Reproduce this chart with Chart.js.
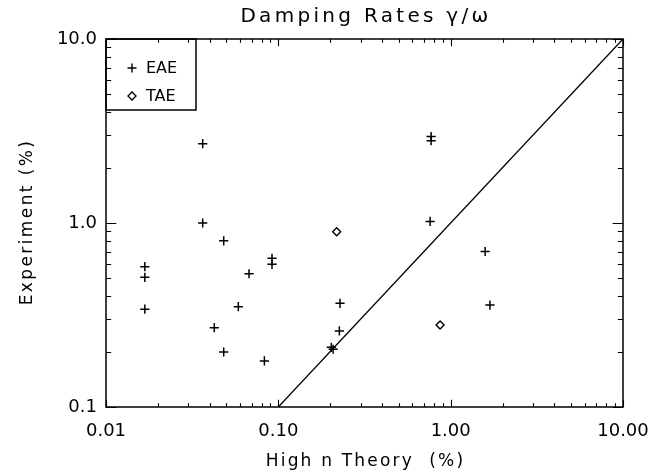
<!DOCTYPE html>
<html>
<head>
<meta charset="utf-8">
<script src="https://cdn.jsdelivr.net/npm/chart.js@4.4.0/dist/chart.umd.min.js"></script>
<style>
  html, body { margin: 0; padding: 0; background: #fff; }
  canvas { display: block; }
</style>
</head>
<body>
<canvas id="mycanvas" width="670" height="476"></canvas>
<script>
var titleText = "Damping Rates \u03b3/\u03c9";
var xTitle = "High n Theory  (%)";
var yTitle = "Experiment (%)";

// EAE points (theory %, experiment %)
var eaeTheory = [0.0364, 0.0364, 0.0482, 0.0168, 0.0168, 0.0168, 0.0676, 0.0919, 0.0919, 0.0586, 0.0425,
                 0.0482, 0.083, 0.228, 0.226, 0.203, 0.208, 0.77, 0.77, 0.76, 1.585, 1.69];
var eaeExperiment = [2.70, 1.00, 0.80, 0.579, 0.507, 0.34, 0.53, 0.643, 0.596, 0.351, 0.27,
                     0.199, 0.178, 0.366, 0.259, 0.211, 0.206, 2.95, 2.80, 1.02, 0.70, 0.358];
// TAE points
var taeTheory = [0.218, 0.868];
var taeExperiment = [0.897, 0.279];
// experiment = theory line
var lineTheory = [0.1, 10];
var lineExperiment = [0.1, 10];

var xTickValues = [0.01, 0.1, 1, 10];
var xTickLabels = ["0.01", "0.10", "1.00", "10.00"];
var yTickValues = [0.1, 1, 10];
var yTickLabels = ["0.1", "1.0", "10.0"];
var minorSteps = [2, 3, 4, 5, 6, 7, 8, 9];

function pairs(xs, ys) {
    var out = [];
    for (var i in xs) {
        out.push({x: xs[i], y: ys[i]});
    }
    return out;
}

function allTicks(majors) {
    var out = [];
    majors.forEach(function(v, i) {
        out.push({v: v, major: true});
        if (i < majors.length - 1) {
            minorSteps.forEach(function(m) { out.push({v: v * m, major: false}); });
        }
    });
    return out;
}

function drawCross(ctx, x, y, r) {
    ctx.beginPath();
    ctx.moveTo(x - r, y); ctx.lineTo(x + r, y);
    ctx.moveTo(x, y - r); ctx.lineTo(x, y + r);
    ctx.stroke();
}

function drawDiamond(ctx, x, y, r) {
    ctx.beginPath();
    ctx.moveTo(x, y - r); ctx.lineTo(x + r, y); ctx.lineTo(x, y + r); ctx.lineTo(x - r, y);
    ctx.closePath();
    ctx.stroke();
}

var framePlugin = {
    id: 'frame',
    afterDraw: function(chart) {
        var ctx = chart.ctx, a = chart.chartArea;
        var xs = chart.scales.x, ys = chart.scales.y;
        ctx.save();
        ctx.strokeStyle = '#000';
        ctx.fillStyle = '#000';

        // box round the plot
        ctx.lineWidth = 1.5;
        ctx.strokeRect(a.left, a.top, a.right - a.left, a.bottom - a.top);

        // inward ticks on all four sides
        ctx.lineWidth = 1.1;
        var xLen = (a.bottom - a.top) * 0.02, yLen = (a.right - a.left) * 0.02;
        allTicks(xTickValues).forEach(function(t) {
            var px = Math.round(xs.getPixelForValue(t.v)) + 0.5;
            var len = t.major ? xLen : xLen / 2;
            ctx.beginPath();
            ctx.moveTo(px, a.bottom); ctx.lineTo(px, a.bottom - len);
            ctx.moveTo(px, a.top); ctx.lineTo(px, a.top + len);
            ctx.stroke();
        });
        allTicks(yTickValues).forEach(function(t) {
            var py = Math.round(ys.getPixelForValue(t.v)) + 0.5;
            var len = t.major ? yLen : yLen / 2;
            ctx.beginPath();
            ctx.moveTo(a.left, py); ctx.lineTo(a.left + len, py);
            ctx.moveTo(a.right, py); ctx.lineTo(a.right - len, py);
            ctx.stroke();
        });

        // legend box in the upper left corner
        ctx.lineWidth = 1.5;
        ctx.strokeRect(a.left, a.top, 90, 71);
        ctx.lineWidth = 1.4;
        ctx.font = '16px "DejaVu Sans"';
        ctx.textAlign = 'left';
        ctx.textBaseline = 'middle';
        var row = 0;
        chart.data.datasets.forEach(function(ds) {
            if (!ds.label) return;
            var ly = a.top + 29 + row * 28;
            if (ds.pointStyle === 'cross') drawCross(ctx, a.left + 26, ly, 4.5);
            else drawDiamond(ctx, a.left + 26, ly, 4);
            ctx.fillText(ds.label, a.left + 40, ly + 1);
            row++;
        });

        // titles
        var cx = (a.left + a.right) / 2;
        ctx.textBaseline = 'alphabetic';
        ctx.textAlign = 'center';
        ctx.font = '20px "DejaVu Sans"';
        ctx.letterSpacing = '3.3px';
        ctx.fillText(titleText, cx + 1.5, 22);

        ctx.font = '17px "DejaVu Sans"';
        ctx.letterSpacing = '2.2px';
        ctx.fillText(xTitle, cx + 1, 466);

        ctx.translate(32, (a.top + a.bottom) / 2);
        ctx.rotate(-Math.PI / 2);
        ctx.letterSpacing = '2.4px';
        ctx.fillText(yTitle, 1, 0);
        ctx.restore();
    }
};

var ctx = document.getElementById('mycanvas');

var chart = new Chart(ctx, {
    type: 'scatter',
    data: {
        datasets: [
            {
                label: 'EAE',
                data: pairs(eaeTheory, eaeExperiment),
                pointStyle: 'cross',
                pointRadius: 4.6,
                pointHoverRadius: 4.6,
                borderColor: '#000',
                backgroundColor: '#000',
                pointBorderWidth: 1.5
            },
            {
                label: 'TAE',
                data: pairs(taeTheory, taeExperiment),
                pointStyle: 'rectRot',
                pointRadius: 4,
                pointHoverRadius: 4,
                borderColor: '#000',
                backgroundColor: '#fff',
                pointBorderWidth: 1.4
            },
            {
                label: '',
                type: 'line',
                data: pairs(lineTheory, lineExperiment),
                showLine: true,
                pointRadius: 0,
                borderColor: '#000',
                borderWidth: 1.3,
                fill: false
            }
        ]
    },
    options: {
        responsive: false,
        animation: false,
        events: [],
        layout: { padding: { top: 39, right: 47, left: 0, bottom: 0 } },
        plugins: {
            legend: { display: false },
            title: { display: false },
            tooltip: { enabled: false }
        },
        scales: {
            x: {
                type: 'logarithmic',
                min: 0.01,
                max: 10,
                grid: { display: false, drawTicks: false },
                border: { display: false },
                afterBuildTicks: function(scale) {
                    scale.ticks = xTickValues.map(function(v) { return {value: v}; });
                },
                afterFit: function(scale) { scale.height = 69; },
                ticks: {
                    autoSkip: false,
                    maxRotation: 0,
                    padding: 14,
                    color: '#000',
                    font: { family: 'DejaVu Sans', size: 18 },
                    callback: function(value, index) { return xTickLabels[index]; }
                }
            },
            y: {
                type: 'logarithmic',
                min: 0.1,
                max: 10,
                grid: { display: false, drawTicks: false },
                border: { display: false },
                afterBuildTicks: function(scale) {
                    scale.ticks = yTickValues.map(function(v) { return {value: v}; });
                },
                afterFit: function(scale) { scale.width = 106; },
                ticks: {
                    autoSkip: false,
                    padding: 9,
                    color: '#000',
                    font: { family: 'DejaVu Sans', size: 18 },
                    callback: function(value, index) { return yTickLabels[index]; }
                }
            }
        }
    },
    plugins: [framePlugin]
});
</script>
</body>
</html>
